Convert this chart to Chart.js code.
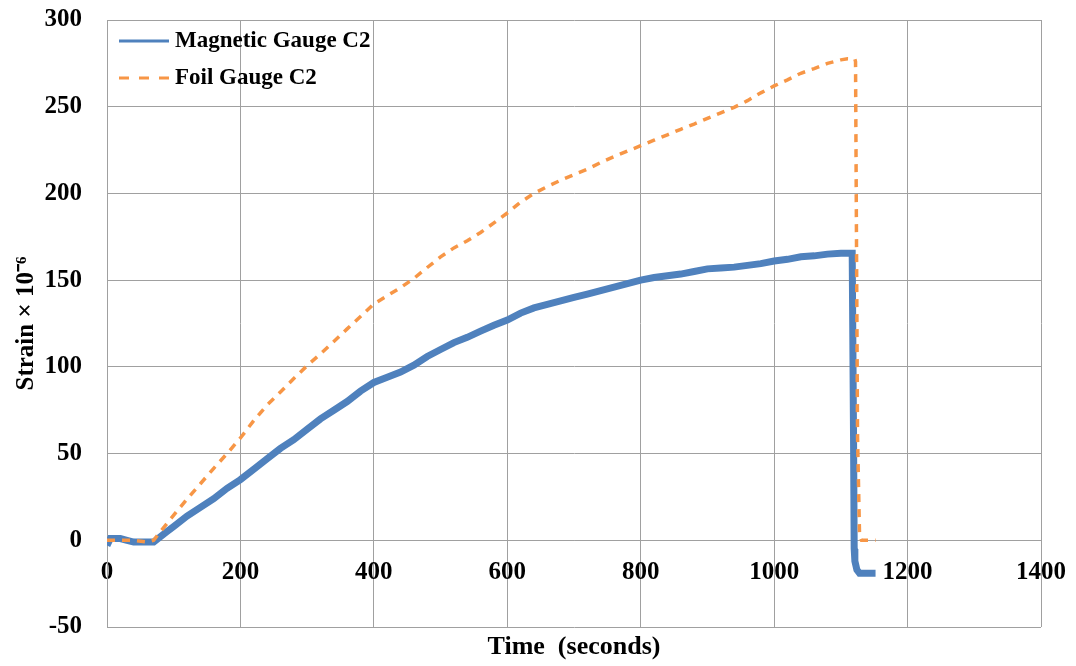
<!DOCTYPE html>
<html><head><meta charset="utf-8">
<script src="https://cdn.jsdelivr.net/npm/chart.js@4/dist/chart.umd.min.js"></script>
<style>html,body{margin:0;padding:0;background:#fff}canvas{display:block}</style>
</head><body>
<canvas id="c" width="1076" height="666"></canvas>
<script>
const seriesNames = ['Magnetic Gauge C2', 'Foil Gauge C2'];
const magTime = [0,5,10,20,30,40,50,60,70,80,90,100,120,140,160,180,200,220,240,260,280,300,320,340,360,380,400,420,440,460,480,500,520,540,560,580,600,620,640,660,680,700,720,740,760,780,800,820,840,860,880,900,920,940,960,980,1000,1020,1040,1060,1080,1100,1117,1119,1120,1121,1124,1128,1140,1152];
const magStrain = [-3,1,1,1,0,-1,-1,-1,-1,2,5,8,14,19,24,30,35,41,47,53,58,64,70,75,80,86,91,94,97,101,106,110,114,117,120.6,124,127,131,134,136,138,140,142,144,146,148,150,151.5,152.5,153.5,155,156.5,157,157.5,158.5,159.5,161,162,163.5,164,165,165.5,165.5,60,-5,-12,-17,-19,-19,-19];
const foilTime = [0,20,40,60,70,80,100,120,140,160,180,200,220,240,260,280,300,320,340,360,380,400,420,440,460,480,500,520,540,560,580,600,620,640,660,680,700,720,740,760,780,800,820,840,860,880,900,920,940,960,980,1000,1020,1040,1060,1080,1100,1110,1121,1122,1125,1128,1131,1152];
const foilStrain = [0,0,0,-1,0,5,14.5,23.8,32.6,41.5,50,59,69,78,85.5,93.3,100.7,107.5,114.6,121.9,129,136.3,141,145.7,151,157.3,163.4,168.6,172.7,177.5,183,188.7,195,200,204,207.6,210.8,214,217.8,221.2,224.4,227.5,230.7,233.8,237,240,243.3,246.5,249.6,253.5,258,262,265.5,269.3,272,275,277,277.6,277.5,276,60,3,0,0];
const xTickValues = [0,200,400,600,800,1000,1200,1400];
const yTickValues = [-50,0,50,100,150,200,250,300];
const xTitle = 'Time  (seconds)';
const yTitle = 'Strain \u00d7 10\u207b\u2076';

const FONT = "'Liberation Serif', 'Times New Roman', serif";
const GRID = '#a0a0a0';

const toPoints = (xs, ys) => xs.map((x, i) => ({x: x, y: ys[i]}));

const insideLegend = {
  id: 'insideLegend',
  afterDraw(chart) {
    const ctx = chart.ctx;
    const a = chart.chartArea;
    chart.data.datasets.forEach((ds, i) => {
      const y = a.top + 21 + i * 37;
      const x0 = a.left + 12;
      ctx.save();
      ctx.strokeStyle = ds.borderColor;
      ctx.lineWidth = 3;
      ctx.setLineDash(i === 1 ? [10, 10] : []);
      ctx.beginPath(); ctx.moveTo(x0, y); ctx.lineTo(x0 + 50, y); ctx.stroke();
      ctx.setLineDash([]);
      ctx.fillStyle = '#000';
      ctx.font = 'bold 23px ' + FONT;
      ctx.textBaseline = 'middle';
      ctx.textAlign = 'left';
      ctx.fillText(ds.label, x0 + 56, y);
      ctx.restore();
    });
  }
};

const plain = (v) => String(v);
const noPad = (s) => { s.paddingTop = 0; s.paddingBottom = 0; s.paddingLeft = 0; s.paddingRight = 0; };

new Chart(document.getElementById('c'), {
  type: 'line',
  data: {
    datasets: [
      {label: seriesNames[0], data: toPoints(magTime, magStrain), borderColor: '#4f81bd', backgroundColor: '#4f81bd', borderWidth: 7, pointRadius: 0, tension: 0, order: 2},
      {label: seriesNames[1], data: toPoints(foilTime, foilStrain), borderColor: '#f79646', backgroundColor: '#f79646', borderWidth: 3.5, borderDash: [8, 7], pointRadius: 0, tension: 0, order: 1}
    ]
  },
  options: {
    responsive: false,
    animation: false,
    devicePixelRatio: 1,
    layout: {padding: {left: 0, right: 35, top: 20, bottom: 0}},
    plugins: {legend: {display: false}, tooltip: {enabled: false}},
    scales: {
      x: {
        type: 'linear', min: 0, max: 1400,
        position: {y: 0},
        afterBuildTicks: (s) => { s.ticks = xTickValues.map(v => ({value: v})); },
        grid: {color: GRID, lineWidth: 1, drawTicks: false},
        border: {display: true, color: GRID, width: 1},
        ticks: {color: '#000', font: {family: FONT, size: 25, weight: 'bold'}, padding: 17, maxRotation: 0, autoSkip: false, callback: plain},
        afterFit: noPad
      },
      x2: {
        type: 'linear', min: 0, max: 1400, position: 'bottom',
        grid: {display: false, drawTicks: false}, border: {display: false},
        ticks: {display: false},
        title: {display: true, text: xTitle, color: '#000', font: {family: FONT, size: 26, weight: 'bold'}, padding: {top: 0, bottom: 3}},
        afterFit: (s) => { noPad(s); s.height = 39; }
      },
      y: {
        type: 'linear', min: -50, max: 300,
        afterBuildTicks: (s) => { s.ticks = yTickValues.map(v => ({value: v})); },
        grid: {color: GRID, lineWidth: 1, drawTicks: false},
        border: {display: true, color: GRID, width: 1},
        ticks: {color: '#000', font: {family: FONT, size: 25, weight: 'bold'}, padding: 25, callback: plain},
        title: {display: true, text: yTitle, color: '#000', font: {family: FONT, size: 25, weight: 'bold'}, padding: {top: 12, bottom: 0}},
        afterFit: (s) => { noPad(s); s.width = 107; }
      }
    }
  },
  plugins: [insideLegend]
});
</script>
</body></html>
